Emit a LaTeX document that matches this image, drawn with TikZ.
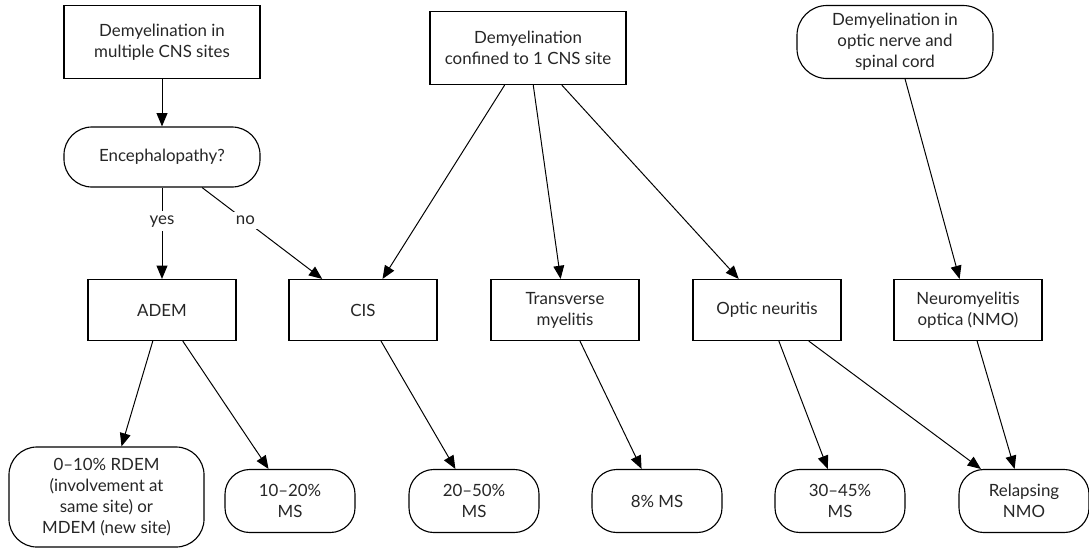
\documentclass[tikz,border=0pt]{standalone}
\usepackage{fontspec}
\setmainfont{Lato}
\usetikzlibrary{arrows.meta}

\tikzset{
  box/.style={draw, line width=0.8pt, align=center, text=black!85, font=\fontsize{12}{15}\selectfont, inner sep=2pt},
  pill/.style={box, rounded corners=0.75cm},
  arr/.style={line width=0.7pt, -{Triangle[length=0.33cm,width=0.27cm]}},
  lab/.style={fill=white, text=black!85, font=\fontsize{12}{15}\selectfont, inner sep=3pt}
}

\begin{document}
\begin{tikzpicture}[x=0.025cm,y=-0.025cm]
\useasboundingbox (0,0) rectangle (1089,547);

%top row
\node[box, minimum width=4.9cm, minimum height=1.825cm] (multi) at (162,42) {Demyelination in\\multiple CNS sites};
\node[box, minimum width=4.9cm, minimum height=1.825cm] (single) at (528,48) {Demyelination\\confined to 1 CNS site};
\node[pill, minimum width=4.9cm, minimum height=1.825cm] (optspin) at (895,42) {Demyelination in\\optic nerve and\\spinal cord};

\node[pill, minimum width=4.9cm, minimum height=1.5cm, rounded corners=0.7cm] (enceph) at (162,157) {Encephalopathy?};

%(ii) diagnoses
\node[box, minimum width=3.7cm, minimum height=1.525cm] (adem) at (162,310) {ADEM};
\node[box, minimum width=3.7cm, minimum height=1.525cm] (cis) at (363,310) {CIS};
\node[box, minimum width=3.7cm, minimum height=1.525cm] (tm) at (565,310) {Transverse\\myelitis};
\node[box, minimum width=3.7cm, minimum height=1.525cm] (on) at (767,310) {Optic neuritis};
\node[box, minimum width=3.7cm, minimum height=1.525cm] (nmo) at (968,310) {Neuromyelitis\\optica (NMO)};

%(iii) outcomes
\node[pill, minimum width=4.875cm, minimum height=2.5cm, rounded corners=0.7cm] (rdem) at (106.5,497) {0--10\% RDEM\\(involvement at\\same site) or\\MDEM (new site)};
\node[pill, minimum width=3.25cm, minimum height=1.575cm, rounded corners=0.62cm] (ms1) at (290,501) {10--20\%\\MS};
\node[pill, minimum width=3.25cm, minimum height=1.575cm, rounded corners=0.62cm] (ms2) at (474,501) {20--50\%\\MS};
\node[pill, minimum width=3.25cm, minimum height=1.575cm, rounded corners=0.62cm] (ms3) at (657,501) {8\% MS};
\node[pill, minimum width=3.25cm, minimum height=1.575cm, rounded corners=0.62cm] (ms4) at (840,501) {30--45\%\\MS};
\node[pill, minimum width=3.25cm, minimum height=1.575cm, rounded corners=0.62cm] (relnmo) at (1024,501) {Relapsing\\NMO};

\draw[arr] (multi) -- (enceph);
\draw[arr] (enceph) -- node[lab, pos=0.37] (yes) {yes} (adem);
\draw[arr] (enceph) -- node[lab, pos=0.36] (no) {no} (cis);

\draw[arr] (single) -- (cis);
\draw[arr] (single) -- (tm);
\draw[arr] (single) -- (on);
\draw[arr] (optspin) -- (nmo);

\draw[arr] (adem) -- (rdem);
\draw[arr] (adem) -- (ms1);
\draw[arr] (cis) -- (ms2);
\draw[arr] (tm) -- (ms3);
\draw[arr] (on) -- (ms4);
\draw[arr] (on) -- (relnmo);
\draw[arr] (nmo) -- (relnmo);

\end{tikzpicture}
\end{document}
